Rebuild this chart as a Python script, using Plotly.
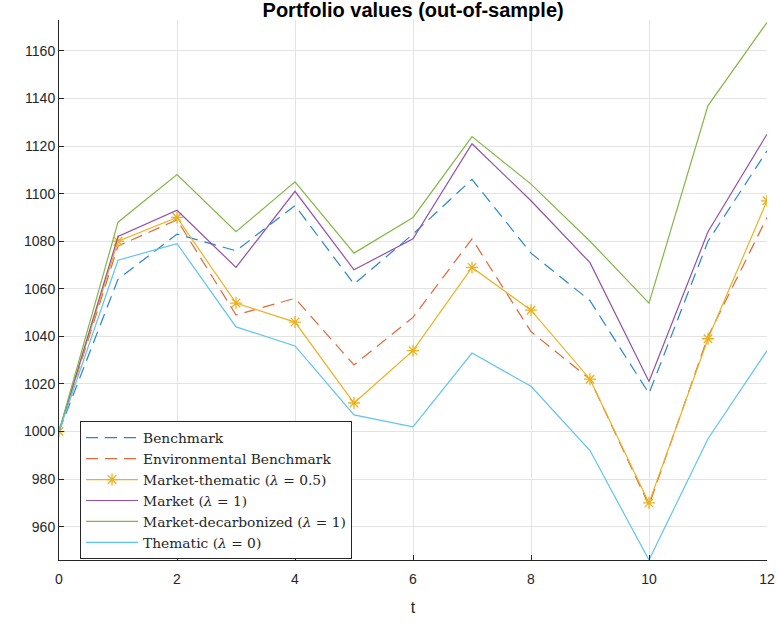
import plotly.graph_objects as go

t = list(range(13))
benchmark = [1000, 1064, 1083, 1076, 1095, 1062, 1083, 1106, 1075, 1055, 1016, 1080, 1118]
env_benchmark = [1000, 1078, 1089, 1049, 1056, 1028, 1048, 1081, 1042, 1022, 969, 1040, 1090]
market_thematic = [1000, 1080, 1090, 1054, 1046, 1012, 1034, 1069, 1051, 1022, 970, 1039, 1097]
market = [1000, 1082, 1093, 1069, 1101, 1068, 1081, 1121, 1097, 1071, 1021, 1084, 1125]
market_decarb = [1000, 1088, 1108, 1084, 1105, 1075, 1090, 1124, 1104, 1080, 1054, 1137, 1172]
thematic = [1000, 1072, 1079, 1044, 1036, 1007, 1002, 1033, 1019, 992, 946, 997, 1034]

names = ["Benchmark", "Environmental Benchmark",
         "Market-thematic (<i>λ</i> = 0.5)", "Market (<i>λ</i> = 1)",
         "Market-decarbonized (<i>λ</i> = 1)", "Thematic (<i>λ</i> = 0)"]

fig = go.Figure()
fig.add_trace(go.Scatter(x=t, y=benchmark, name=names[0], mode="lines",
                         line=dict(color="#2a86cc", width=1.2, dash="12px,7px")))
fig.add_trace(go.Scatter(x=t, y=env_benchmark, name=names[1], mode="lines",
                         line=dict(color="#e0683a", width=1.2, dash="12px,7px")))
fig.add_trace(go.Scatter(x=t, y=market_thematic, name=names[2], mode="lines+markers",
                         line=dict(color="#EDB120", width=1.2),
                         marker=dict(symbol="asterisk-open", size=10,
                                     line=dict(color="#EDB120", width=1.3))))
fig.add_trace(go.Scatter(x=t, y=market, name=names[3], mode="lines",
                         line=dict(color="#9350a6", width=1.2)))
fig.add_trace(go.Scatter(x=t, y=market_decarb, name=names[4], mode="lines",
                         line=dict(color="#84b746", width=1.2)))
fig.add_trace(go.Scatter(x=t, y=thematic, name=names[5], mode="lines",
                         line=dict(color="#5ec4f0", width=1.2)))

axis_common = dict(showline=True, linecolor="#262626", linewidth=1,
                   showgrid=True, gridcolor="#e3e3e3", gridwidth=1,
                   ticks="inside", ticklen=5, tickcolor="#262626",
                   tickfont=dict(family="Liberation Sans, Arial", size=14, color="#262626"),
                   zeroline=False, mirror=False, automargin=False)

fig.update_layout(
    width=778, height=623,
    margin=dict(l=59, r=11, t=20, b=63, autoexpand=False),
    paper_bgcolor="white", plot_bgcolor="white",
    title=dict(text="<b>Portfolio values (out-of-sample)</b>", x=0.531, xanchor="center",
               xref="container", y=0.984, yref="container", yanchor="middle",
               automargin=False,
               font=dict(family="Liberation Sans, Arial", size=20, color="black")),
    xaxis=dict(range=[0, 12], tickvals=list(range(0, 13, 2)), ticklabelstandoff=6,
               title=dict(text="t", font=dict(family="Liberation Sans, Arial", size=16, color="#262626"),
                          standoff=16),
               **axis_common),
    yaxis=dict(range=[946, 1173], tickvals=list(range(960, 1161, 20)),
               **axis_common),
    legend=dict(x=0.0297, y=0.257, xanchor="left", yanchor="top",
                bgcolor="white", bordercolor="#262626", borderwidth=1,
                font=dict(family="DejaVu Serif", size=13.8, color="#262626"),
                tracegroupgap=0, itemwidth=52),
    showlegend=True,
)

fig.write_html("out.html", config={"displayModeBar": False},
               post_script="document.body.style.margin='0';document.body.style.overflow='hidden';")
